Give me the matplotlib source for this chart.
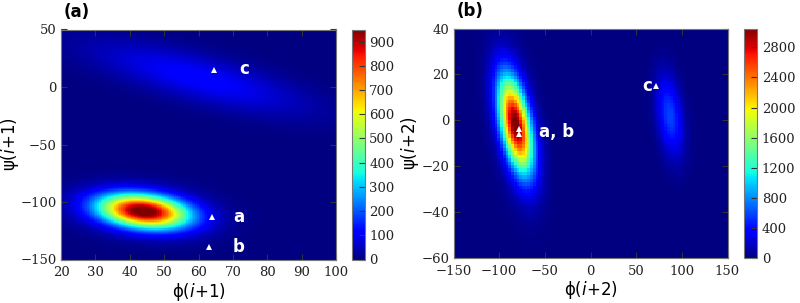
import numpy as np
import matplotlib
matplotlib.use('Agg')
import matplotlib.pyplot as plt

# 패널 (a): phi(i+1) / psi(i+1) 밀도 (블롭 파라미터를 그림에서 읽음)
a_cx = [44.0, 60.0, 44.0]
a_cy = [-108.0, 8.0, -108.0]
a_sx = [8.8, 21.0, 14.0]
a_sy = [10.0, 21.0, 16.0]
a_rho = [-0.25, -0.75, -0.2]
a_peak = [950.0, 115.0, 60.0]
a_xlim = (20, 100)
a_ylim = (-150, 50)
a_xticks = [20, 30, 40, 50, 60, 70, 80, 90, 100]
a_yticks = [-150, -100, -50, 0, 50]
a_cbticks = [0, 100, 200, 300, 400, 500, 600, 700, 800, 900]
a_vmax = 950
a_mark_x = [64, 63, 64.5]
a_mark_y = [-113, -139, 15]
a_labels = ['a', 'b', 'c']
a_label_x = [70, 70, 72]
a_label_y = [-113, -139, 16]

# 패널 (b): phi(i+2) / psi(i+2)
b_cx = [-82.0, 87.0, -82.0]
b_cy = [-2.0, 2.0, -2.0]
b_sx = [12.5, 10.0, 18.0]
b_sy = [14.0, 12.0, 24.0]
b_rho = [-0.5, -0.35, -0.4]
b_peak = [3000.0, 580.0, 150.0]
b_xlim = (-150, 150)
b_ylim = (-60, 40)
b_xticks = [-150, -100, -50, 0, 50, 100, 150]
b_yticks = [-60, -40, -20, 0, 20, 40]
b_cbticks = [0, 400, 800, 1200, 1600, 2000, 2400, 2800]
b_vmax = 3050
b_mark_x = [-78, -78, 72]
b_mark_y = [-4, -6, 15]
b_labels = ['a, b', 'c']
b_label_x = [-56, 62]
b_label_y = [-5, 15]


def density(xc, yc, cx, cy, sx, sy, rho, peak):
    X, Y = np.meshgrid(xc, yc)
    Z = np.zeros_like(X)
    for i in range(len(cx)):
        u = (X - cx[i]) / sx[i]
        v = (Y - cy[i]) / sy[i]
        q = (u**2 - 2 * rho[i] * u * v + v**2) / (1 - rho[i]**2)
        Z += peak[i] * np.exp(-0.5 * q)
    return Z


serif = 'DejaVu Serif'
fig = plt.figure(figsize=(8, 3.03), dpi=100)


def panel(rect, cbrect, xlim, ylim, dx, dy, cx, cy, sx, sy, rho, peak, vmax,
          xticks, yticks, cbticks, xlabel, ylabel, tag):
    ax = fig.add_axes(rect)
    xe = np.arange(xlim[0], xlim[1] + dx / 2, dx)
    ye = np.arange(ylim[0], ylim[1] + dy / 2, dy)
    xc = (xe[:-1] + xe[1:]) / 2
    yc = (ye[:-1] + ye[1:]) / 2
    Z = density(xc, yc, cx, cy, sx, sy, rho, peak)
    m = ax.pcolormesh(xe, ye, Z, cmap='jet', vmin=0, vmax=vmax, rasterized=True)
    ax.set_xlim(xlim)
    ax.set_ylim(ylim)
    ax.set_xticks(xticks)
    ax.set_yticks(yticks)
    ax.tick_params(direction='in', top=True, right=True, length=4, color='#333333',
                   labelsize=9.5, pad=3)
    ax.tick_params(axis='x', pad=5)
    for lab in ax.get_xticklabels() + ax.get_yticklabels():
        lab.set_fontfamily(serif)
        lab.set_color('#222222')
    for s in ax.spines.values():
        s.set_color('#777777')
    ax.set_xlabel(xlabel, fontsize=12, labelpad=1)
    ax.set_ylabel(ylabel, fontsize=12, labelpad=0)
    ax.text(0.01, 1.035, tag, transform=ax.transAxes, fontsize=12, fontweight='bold',
            ha='left', va='bottom')
    cax = fig.add_axes(cbrect)
    cb = fig.colorbar(m, cax=cax, ticks=cbticks)
    cb.ax.tick_params(direction='in', length=4, labelsize=9.5, pad=3, color='#333333')
    for lab in cb.ax.get_yticklabels():
        lab.set_fontfamily(serif)
        lab.set_color('#222222')
    cb.outline.set_edgecolor('#777777')
    return ax


axa = panel([61 / 800, 1 - 259.5 / 303, 275 / 800, 230 / 303],
            [352 / 800, 1 - 259.5 / 303, 13 / 800, 230 / 303],
            a_xlim, a_ylim, 0.5, 1.0, a_cx, a_cy, a_sx, a_sy, a_rho, a_peak, a_vmax,
            a_xticks, a_yticks, a_cbticks,
            r'ϕ($\mathit{i}$+1)', r'ψ($\mathit{i}$+1)', '(a)')
axa.plot(a_mark_x, a_mark_y, '^', color='white', markersize=4, markeredgewidth=0)
for t, x, y in zip(a_labels, a_label_x, a_label_y):
    axa.text(x, y, t, color='white', fontsize=12, fontweight='bold', va='center', ha='left')

axb = panel([453.5 / 800, 1 - 258 / 303, 274 / 800, 229.5 / 303],
            [743.5 / 800, 1 - 258 / 303, 14 / 800, 229.5 / 303],
            b_xlim, b_ylim, 3.0, 1.5, b_cx, b_cy, b_sx, b_sy, b_rho, b_peak, b_vmax,
            b_xticks, b_yticks, b_cbticks,
            r'ϕ($\mathit{i}$+2)', r'ψ($\mathit{i}$+2)', '(b)')
axb.plot(b_mark_x, b_mark_y, '^', color='white', markersize=4, markeredgewidth=0)
axb.text(b_label_x[0], b_label_y[0], b_labels[0], color='white', fontsize=12,
         fontweight='bold', va='center', ha='left')
axb.text(b_label_x[1], b_label_y[1], b_labels[1], color='white', fontsize=12,
         fontweight='bold', va='center', ha='center')

fig.savefig('out.png', dpi=100)
